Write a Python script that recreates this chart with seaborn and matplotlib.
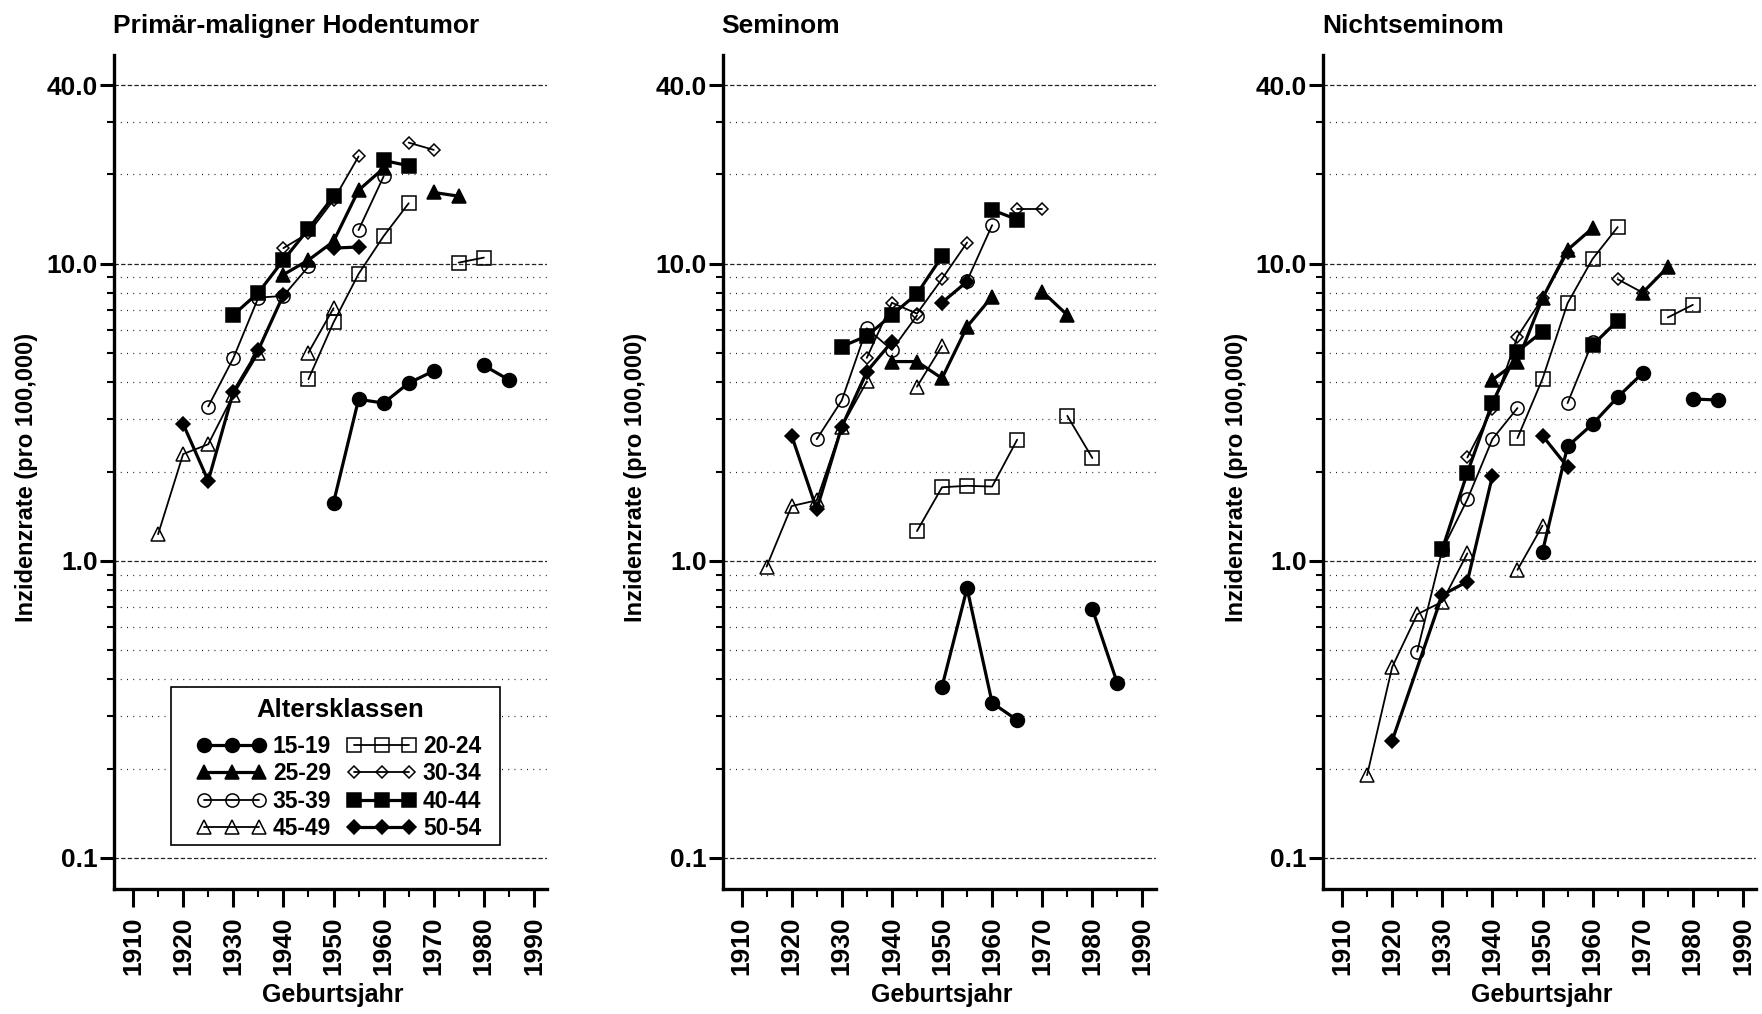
import matplotlib
matplotlib.use("Agg")
import matplotlib.pyplot as plt
from matplotlib.lines import Line2D
from matplotlib.patches import Rectangle
from matplotlib.legend_handler import HandlerLine2D
from matplotlib.ticker import FixedLocator, NullFormatter
import pandas as pd
import seaborn as sns

# Geburtskohorten (Mitte der 5-Jahres-Kohorte)
YEARS = [1915, 1920, 1925, 1930, 1935, 1940, 1945, 1950,
         1955, 1960, 1965, 1970, 1975, 1980, 1985]

AGE_GROUPS = ["15-19", "20-24", "25-29", "30-34",
              "35-39", "40-44", "45-49", "50-54"]

# erste Kohorte, die aus der späteren Beobachtungsperiode stammt
LATE_START = [1980, 1975, 1970, 1965, 1955, 1960, 1945, 1950]

N = None

# Inzidenz pro 100.000, Primär-maligner Hodentumor
GESAMT = {
    "15-19": [N, N, N, N, N, N, N, 1.57, 3.50, 3.40, 3.97, 4.36, N, 4.55, 4.07],
    "20-24": [N, N, N, N, N, N, 4.09, 6.35, 9.25, 12.4, 16.0, N, 10.1, 10.5, N],
    "25-29": [N, N, N, N, N, 9.2, 10.3, 11.9, 17.7, 21.0, N, 17.4, 16.9, N, N],
    "30-34": [N, N, N, N, N, 11.3, 12.7, 16.4, 23.0, N, 25.6, 24.2, N, N, N],
    "35-39": [N, N, 3.31, 4.81, 7.7, 7.8, 9.8, N, 13.0, 19.7, N, N, N, N, N],
    "40-44": [N, N, N, 6.73, 8.0, 10.3, 13.1, 16.9, N, 22.3, 21.4, N, N, N, N],
    "45-49": [1.23, 2.29, 2.47, 3.62, 5.0, N, 5.03, 7.09, N, N, N, N, N, N, N],
    "50-54": [N, 2.89, 1.86, 3.70, 5.13, 7.86, N, 11.3, 11.4, N, N, N, N, N, N],
}

# Inzidenz pro 100.000, Seminom
SEMINOM = {
    "15-19": [N, N, N, N, N, N, N, 0.377, 0.809, 0.333, 0.291, N, N, 0.689, 0.387],
    "20-24": [N, N, N, N, N, N, 1.26, 1.77, 1.79, 1.78, 2.56, N, 3.08, 2.22, N],
    "25-29": [N, N, N, N, N, 4.69, 4.69, 4.12, 6.15, 7.76, N, 8.07, 6.73, N, N],
    "30-34": [N, N, N, N, 4.83, 7.4, 6.8, 8.9, 11.8, N, 15.3, 15.3, N, N, N],
    "35-39": [N, N, 2.57, 3.47, 6.07, 5.13, 6.70, N, 8.77, 13.5, N, N, N, N, N],
    "40-44": [N, N, N, 5.27, 5.72, 6.73, 7.93, 10.6, N, 15.2, 14.1, N, N, N, N],
    "45-49": [0.957, 1.53, 1.60, 2.83, 4.02, N, 3.86, 5.29, N, N, N, N, N, N, N],
    "50-54": [N, 2.64, 1.49, 2.83, 4.34, 5.47, N, 7.41, 8.72, N, N, N, N, N, N],
}

# Inzidenz pro 100.000, Nichtseminom
NICHTSEMINOM = {
    "15-19": [N, N, N, N, N, N, N, 1.075, 2.43, 2.89, 3.56, 4.29, N, 3.51, 3.48],
    "20-24": [N, N, N, N, N, N, 2.59, 4.10, 7.37, 10.4, 13.3, N, 6.6, 7.28, N],
    "25-29": [N, N, N, N, N, 4.07, 4.69, 7.66, 11.15, 13.2, N, 8.01, 9.75, N, N],
    "30-34": [N, N, N, N, 2.23, 3.25, 5.69, 7.66, 10.9, N, 8.88, 8.0, N, N, N],
    "35-39": [N, N, 0.495, 1.09, 1.61, 2.57, 3.27, N, 3.40, 5.47, N, N, N, N, N],
    "40-44": [N, N, N, 1.095, 1.98, 3.41, 5.07, 5.92, N, 5.33, 6.44, N, N, N, N],
    "45-49": [0.190, 0.439, 0.661, 0.729, 1.06, N, 0.933, 1.315, N, N, N, N, N, N, N],
    "50-54": [N, 0.248, N, 0.768, 0.852, 1.93, N, 2.64, 2.07, N, N, N, N, N, N],
}

PANELS = [("Primär-maligner Hodentumor", GESAMT),
          ("Seminom", SEMINOM),
          ("Nichtseminom", NICHTSEMINOM)]

Y_MAJOR = [0.1, 1.0, 10.0, 40.0]
Y_LABELS = ["0.1", "1.0", "10.0", "40.0"]
Y_MINOR = [0.2, 0.3, 0.4, 0.5, 0.6, 0.7, 0.8, 0.9,
           2, 3, 4, 5, 6, 7, 8, 9, 20, 30]

# Marker und Linien je Altersklasse
THICK, THIN = 2.3, 1.3
STYLES = {
    "15-19": dict(marker="o", ms=10.0, mfc="black", lw=THICK),
    "20-24": dict(marker="s", ms=9.5, mfc="none", lw=THIN),
    "25-29": dict(marker="^", ms=10.5, mfc="black", lw=THICK),
    "30-34": dict(marker="D", ms=6.6, mfc="none", lw=THIN),
    "35-39": dict(marker="o", ms=9.5, mfc="none", lw=THIN),
    "40-44": dict(marker="s", ms=9.5, mfc="black", lw=THICK),
    "45-49": dict(marker="^", ms=10.0, mfc="none", lw=THIN),
    "50-54": dict(marker="D", ms=6.8, mfc="black", lw=THICK),
}

sns.set_theme(style="ticks")
plt.rcParams["font.family"] = ["Liberation Sans", "DejaVu Sans"]
plt.rcParams["font.weight"] = "bold"
plt.rcParams["text.color"] = "black"
plt.rcParams["axes.labelcolor"] = "black"
plt.rcParams["xtick.color"] = "black"
plt.rcParams["ytick.color"] = "black"

W, H = 1762, 1014
fig = plt.figure(figsize=(W / 100, H / 100), dpi=100)
fig.patch.set_facecolor("white")

AX_LEFT = [114, 722.5, 1323]
AX_W, AX_TOP, AX_BOTTOM = 433, 55, 889


def fx(px):
    return px / W


def fy(px):
    return 1 - px / H


def long_table(series):
    rows = []
    for gi, grp in enumerate(AGE_GROUPS):
        for yr, val in zip(YEARS, series[grp]):
            if val is None:
                continue
            seg = 1 if yr >= LATE_START[gi] else 0
            rows.append({"Geburtsjahr": yr, "Rate": val,
                         "Gruppe": grp, "Abschnitt": seg})
    return pd.DataFrame(rows)


axes = []
for pi, (title, series) in enumerate(PANELS):
    left = AX_LEFT[pi]
    ax = fig.add_axes([fx(left), fy(AX_BOTTOM), AX_W / W,
                       (AX_BOTTOM - AX_TOP) / H])
    axes.append(ax)
    ax.set_facecolor("white")
    ax.set_yscale("log")

    df = long_table(series)
    for grp in AGE_GROUPS:
        st = STYLES[grp]
        sns.lineplot(data=df[df["Gruppe"] == grp], x="Geburtsjahr", y="Rate",
                     units="Abschnitt", estimator=None, ax=ax,
                     color="black", lw=st["lw"], marker=st["marker"],
                     ms=st["ms"], mfc=st["mfc"], mec="black", mew=1.1,
                     legend=False, zorder=3, clip_on=False)

    ax.set_xlim(1906.2, 1992.6)
    ax.set_ylim(0.0786, 50.5)

    ax.yaxis.set_major_locator(FixedLocator(Y_MAJOR))
    ax.set_yticklabels(Y_LABELS)
    ax.yaxis.set_minor_locator(FixedLocator(Y_MINOR))
    ax.yaxis.set_minor_formatter(NullFormatter())
    ax.set_xticks(list(range(1910, 1991, 10)))
    ax.set_xticks(list(range(1915, 1986, 10)), minor=True)

    ax.tick_params(axis="y", which="major", direction="out", length=10,
                   width=2.2, pad=1.5, labelsize=19)
    ax.tick_params(axis="y", which="minor", direction="out", length=5,
                   width=1.5)
    ax.tick_params(axis="x", which="major", direction="out", length=13,
                   width=2.2, pad=7, labelsize=19, labelrotation=90)
    ax.tick_params(axis="x", which="minor", direction="out", length=5.5,
                   width=1.5)
    for lab in ax.get_xticklabels() + ax.get_yticklabels():
        lab.set_fontweight("bold")

    ax.yaxis.grid(True, which="major", color="#222222", lw=0.9,
                  ls=(0, (3.5, 1.8)))
    ax.yaxis.grid(True, which="minor", color="#222222", lw=0.9,
                  ls=(0, (0.8, 4.2)))
    ax.xaxis.grid(False)
    ax.set_axisbelow(True)

    for side in ("top", "right"):
        ax.spines[side].set_visible(False)
    for side in ("left", "bottom"):
        ax.spines[side].set_linewidth(2.4)
        ax.spines[side].set_color("black")

    ax.set_xlabel("")
    ax.set_ylabel("")

    fig.text(fx(left - 1), fy(33), title, fontsize=19,
             fontweight="bold", ha="left", va="baseline")
    fig.text(fx(left - 87), fy(477), "Inzidenzrate (pro 100,000)",
             fontsize=17, fontweight="bold", rotation=90,
             ha="center", va="center")
    fig.text(fx(left + 219), fy(1002), "Geburtsjahr", fontsize=18,
             fontweight="bold", ha="center", va="baseline")

# Legende der Altersklassen im ersten Panel (zeilenweise angeordnet)
ax0 = axes[0]
box = Rectangle((fx(171), fy(845)), (500 - 171) / W, (845 - 687) / H,
                transform=fig.transFigure, facecolor="white",
                edgecolor="black", lw=1.2, zorder=4, clip_on=False)
ax0.add_artist(box)
ax0.text(fx(340), fy(710), "Altersklassen", transform=fig.transFigure,
         ha="center", va="center", fontsize=18.5, fontweight="bold",
         zorder=6)

order = ["15-19", "25-29", "35-39", "45-49", "20-24", "30-34", "40-44", "50-54"]
handles = []
for grp in order:
    st = STYLES[grp]
    handles.append(Line2D([], [], color="black", lw=st["lw"],
                          marker=st["marker"], ms=st["ms"], mfc=st["mfc"],
                          mec="black", mew=1.1))
leg = ax0.legend(handles, order, loc="upper left",
                 bbox_to_anchor=(fx(204), fy(735)),
                 bbox_transform=fig.transFigure,
                 borderaxespad=0, borderpad=0, frameon=False,
                 ncol=2, numpoints=3, handlelength=2.4,
                 handletextpad=0.6, columnspacing=1.0, labelspacing=0.19,
                 prop={"weight": "bold", "size": 16.5},
                 handler_map={Line2D: HandlerLine2D(marker_pad=0)})
leg.set_zorder(6)

fig.savefig("out.png", dpi=100, facecolor="white")
